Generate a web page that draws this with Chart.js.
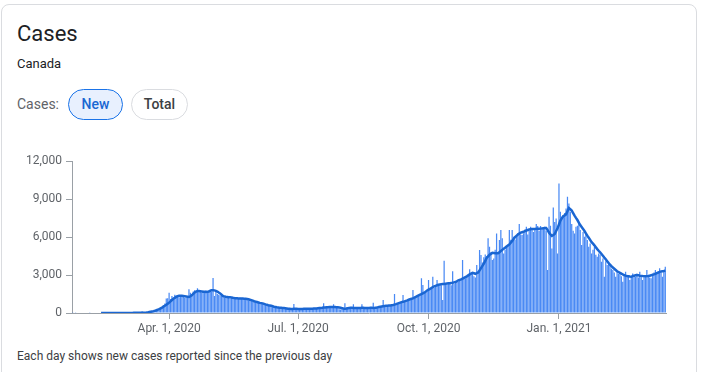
<!DOCTYPE html>
<html>
<head>
<meta charset="utf-8">
<script src="https://cdn.jsdelivr.net/npm/chart.js@4.4.0/dist/chart.umd.min.js"></script>
<style>
  html,body{margin:0;padding:0;background:#fff;width:706px;height:372px;overflow:hidden;font-family:Roboto,"Noto Sans",Arial,sans-serif;}
  .card{position:absolute;left:1px;top:4px;width:696px;height:400px;border:1px solid #dadce0;border-radius:8px;box-sizing:border-box;}
  .title{position:absolute;left:17px;top:20px;font-size:22px;color:#202124;line-height:28px;}
  .sub{position:absolute;left:17px;top:55px;font-size:13px;color:#202124;line-height:18px;}
  .lbl{position:absolute;left:17px;top:95px;font-size:14px;color:#5f6368;line-height:18px;}
  .chip{position:absolute;top:89px;height:31px;box-sizing:border-box;border-radius:16px;font-size:14px;font-weight:500;line-height:29px;text-align:center;}
  .chip.new{left:68px;width:55px;border:1px solid #1a73e8;background:#e8f0fe;color:#1967d2;}
  .chip.total{left:131px;width:57px;border:1px solid #dadce0;background:#fff;color:#3c4043;}
  .foot{position:absolute;left:17px;top:348px;font-size:12px;color:#3c4043;line-height:16px;}
  #wrap{position:absolute;left:0;top:150px;width:690px;height:193px;}
</style>
</head>
<body>
<div class="card"></div>
<div class="title">Cases</div>
<div class="sub">Canada</div>
<div class="lbl">Cases:</div>
<div class="chip new">New</div>
<div class="chip total">Total</div>
<div id="wrap"><canvas id="c" width="690" height="193"></canvas></div>
<div class="foot">Each day shows new cases reported since the previous day</div>
<script>
// First day of the series and number of days (categories)
const startDate = '2020-01-24';
const tickDates = ['2020-04-01', '2020-07-01', '2020-10-01', '2021-01-01'];
const tickLabels = ['Apr. 1, 2020', 'Jul. 1, 2020', 'Oct. 1, 2020', 'Jan. 1, 2021'];
const yTicks = [0, 3000, 6000, 9000, 12000];

// Daily new cases (bars), one per day from startDate
const dailyCases = [
  50,0,60,0,0,0,0,0,0,0,
  0,0,50,0,0,0,0,0,0,0,
  0,1,0,0,1,0,0,1,0,1,
  1,1,2,0,3,1,4,2,3,6,
  3,8,5,9,12,15,20,25,30,40,
  25,30,60,50,80,120,110,150,200,230,
  300,350,420,480,620,750,1150,1160,1600,1100,
  1350,1200,1450,1380,1300,1250,1400,1350,1280,1200,
  1180,1350,1870,1600,1500,1700,1800,1650,1950,1700,
  1700,1600,1750,1650,1800,1600,1750,1850,1700,2760,
  1340,1680,1500,1450,1400,1500,1250,1200,1300,1250,
  1300,1150,1250,1200,1100,1180,1150,1120,1200,1100,
  1150,1100,1180,1050,1000,1080,950,900,950,880,
  850,820,780,800,720,700,650,640,600,620,
  560,520,480,460,440,430,400,420,380,390,
  370,350,330,310,300,340,710,320,300,310,
  320,300,340,310,330,350,320,340,360,330,
  350,340,370,390,380,400,420,765,430,450,
  470,440,460,450,690,420,440,430,300,280,
  300,320,765,350,380,400,420,410,690,390,
  380,410,400,420,690,390,400,380,410,400,
  420,400,815,420,440,460,480,500,520,1025,
  540,560,580,600,620,560,640,1500,680,720,
  760,800,850,1420,880,900,950,1050,1100,1150,
  1815,1150,1250,1300,1400,1450,2750,2210,1550,1650,
  1700,2600,1850,1900,2870,2000,2100,2600,2150,2200,
  2200,1025,4130,2300,2250,2350,2400,2200,3300,2300,
  2400,2500,2450,2600,2700,4190,2800,2750,2900,2950,
  3450,3100,3200,2900,2800,3790,3300,4980,4580,4000,
  4400,4630,4500,5900,5240,4800,4190,4300,5000,6290,
  4800,5770,6560,5900,4710,5000,5300,5400,6560,5800,
  6560,6020,5800,6100,6300,7030,6200,6160,6300,6600,
  6810,6200,6500,6810,6600,6400,6700,7030,6870,6500,
  6870,6600,6700,6810,6500,3400,7600,6900,5100,8340,
  7200,7470,4710,10230,8000,7600,7600,7900,8260,9180,
  8660,8000,7030,6500,6290,6810,6900,7200,6560,5370,
  6400,6020,6300,5770,5240,5500,4710,5000,5240,4600,
  4450,4710,4600,4050,4300,2870,4100,3790,4050,3800,
  3500,3400,3200,2870,3300,3100,3130,2900,2470,3000,
  3260,2900,3000,2600,2900,3130,3000,2870,3100,2800,
  3260,2900,2600,3000,2850,3400,2900,2800,2740,3100,
  3200,3400,3100,3300,3530,3200,2870,3400,3660
];

// 7-day average line, one per day
const avgCases = [
  null,null,null,null,null,null,null,null,null,null,
  null,null,null,null,null,null,null,null,null,null,
  0,0,0,0,0,0,0,0,0,0,
  1,1,1,2,2,2,3,3,4,5,
  6,7,8,10,12,15,18,22,27,33,
  20,25,32,50,75,100,125,150,180,215,
  260,310,370,430,500,570,650,735,820,920,
  1025,1120,1200,1270,1330,1355,1360,1355,1340,1320,
  1300,1280,1260,1320,1400,1510,1620,1690,1740,1735,
  1720,1700,1680,1675,1670,1680,1700,1750,1800,1805,
  1790,1750,1700,1620,1550,1450,1340,1300,1280,1265,
  1250,1240,1230,1200,1180,1170,1160,1150,1140,1140,
  1140,1130,1120,1100,1080,1050,1020,975,930,900,
  870,835,800,780,760,720,680,650,620,600,
  580,540,500,475,450,435,420,410,400,390,
  380,360,340,330,320,325,330,330,330,325,
  320,320,325,330,330,335,335,340,340,345,
  350,355,360,380,390,400,410,430,440,455,
  460,465,470,470,470,465,460,450,440,410,
  380,350,330,350,380,395,410,410,405,400,
  395,395,400,405,410,410,405,400,400,405,
  410,410,405,410,420,445,470,495,520,540,
  560,570,580,590,600,615,630,665,700,740,
  780,820,860,890,920,960,1000,1045,1090,1125,
  1160,1215,1270,1335,1400,1450,1500,1550,1600,1690,
  1780,1840,1900,1975,2050,2100,2150,2190,2230,2250,
  2270,2285,2300,2315,2330,2345,2360,2375,2390,2420,
  2450,2510,2570,2615,2660,2720,2780,2840,2900,2975,
  3050,3115,3180,3140,3100,3150,3200,3375,3550,3725,
  3900,4125,4350,4475,4600,4675,4750,4735,4720,4720,
  4720,4810,4900,4990,5080,5165,5250,5335,5420,5560,
  5700,5850,6000,6100,6200,6275,6350,6385,6420,6470,
  6520,6560,6600,6625,6650,6650,6650,6655,6660,6665,
  6670,6685,6700,6710,6720,6550,6350,6220,6100,6170,
  6250,6480,6700,7000,7300,7480,7650,7720,7800,8050,
  8300,8200,8100,7900,7700,7520,7350,7150,6950,6800,
  6650,6480,6300,6120,5950,5780,5600,5480,5350,5200,
  5050,4920,4800,4660,4520,4380,4250,4100,3950,3820,
  3700,3600,3500,3400,3300,3240,3180,3110,3050,3000,
  2950,2920,2900,2880,2870,2910,2950,2980,3000,2980,
  2950,2935,2920,2915,2910,2915,2920,2950,2980,3020,
  3050,3100,3150,3200,3250,3280,3300,3320,3350
];

// Build the category labels (one ISO date per day)
const dayLabels = [];
{
  const d0 = new Date(startDate + 'T00:00:00Z');
  for (let i = 0; i < dailyCases.length; i++) {
    const d = new Date(d0.getTime() + i * 86400000);
    dayLabels.push(d.toISOString().slice(0, 10));
  }
}

const axisGray = '#9aa0a6';
const textGray = '#5f6368';
const font = {family: 'Roboto', size: 12};

new Chart(document.getElementById('c'), {
  type: 'bar',
  data: {
    labels: dayLabels,
    datasets: [
      {
        type: 'line',
        data: avgCases,
        borderColor: '#1a66d2',
        borderWidth: 2.5,
        pointRadius: 0,
        tension: 0,
        spanGaps: false,
        order: 0
      },
      {
        type: 'bar',
        data: dailyCases,
        backgroundColor: '#4a8af4',
        barPercentage: 0.88,
        categoryPercentage: 1.0,
        order: 1
      }
    ]
  },
  options: {
    responsive: false,
    devicePixelRatio: 1,
    animation: false,
    layout: {padding: {top: 11, right: 24, left: 0, bottom: 0}},
    plugins: {legend: {display: false}, tooltip: {enabled: false}},
    scales: {
      x: {
        type: 'category',
        offset: true,
        grid: {display: true, drawOnChartArea: false, drawTicks: true, tickLength: 6, color: axisGray, offset: false},
        border: {display: true, color: axisGray, width: 1},
        ticks: {
          autoSkip: false, maxRotation: 0, minRotation: 0, padding: 3,
          color: textGray, font: font,
          callback: function(v) {
            const k = tickDates.indexOf(this.getLabelForValue(v));
            return k >= 0 ? tickLabels[k] : '';
          }
        },
        afterBuildTicks: s => {
          s.ticks = s.ticks.filter(t => tickDates.includes(dayLabels[t.value]));
        },
        afterFit: s => { s.height = 30; }
      },
      y: {
        min: 0, max: 12000,
        grid: {display: true, drawOnChartArea: false, drawTicks: true, tickLength: 6, color: axisGray},
        border: {display: true, color: axisGray, width: 1},
        ticks: {
          padding: 4, color: textGray, font: font,
          callback: v => v.toLocaleString('en-US')
        },
        afterBuildTicks: s => { s.ticks = yTicks.map(v => ({value: v})); },
        afterFit: s => { s.width = 72; }
      }
    }
  }
});
</script>
</body>
</html>
